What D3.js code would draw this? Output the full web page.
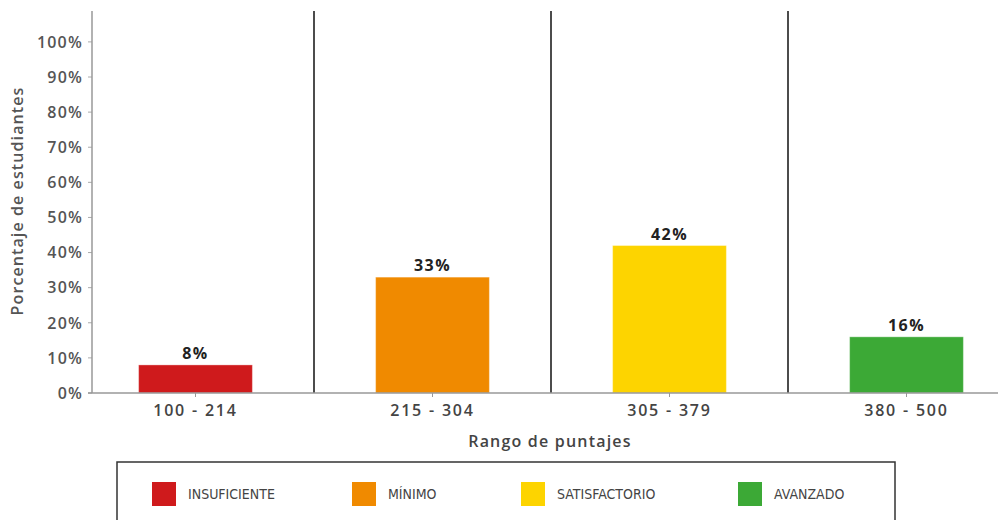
<!DOCTYPE html>
<html><head><meta charset="utf-8">
<script src="https://cdn.jsdelivr.net/npm/d3@7"></script>
<style>body{margin:0;background:#fff}svg{display:block}</style>
</head><body>
<script>
const categories = ["100 - 214", "215 - 304", "305 - 379", "380 - 500"];
const values = [8, 33, 42, 16];
const levels = ["INSUFICIENTE", "MÍNIMO", "SATISFACTORIO", "AVANZADO"];
const colors = ["#CF1A1C", "#F08A00", "#FDD400", "#3CA936"];
const yTicks = [0, 10, 20, 30, 40, 50, 60, 70, 80, 90, 100];

const W = 998, H = 520;
const svg = d3.select("body").append("svg").attr("width", W).attr("height", H);
const font = "'Open Sans', 'DejaVu Sans', sans-serif";

const x = d3.scaleBand().domain(categories).range([77, 1025]).paddingInner(0.52).paddingOuter(0.26);
const xb = d3.scaleBand().domain(categories).range([77, 1025]);
const y = d3.scaleLinear().domain([0, 108.8]).range([393, 11]);
const axisLeft = 92;

// y tick labels
svg.append("g").selectAll("text").data(yTicks).join("text")
  .attr("x", 83).attr("y", d => y(d)).attr("dy", "0.36em")
  .attr("text-anchor", "end").attr("font-family", font).attr("font-weight", 600)
  .attr("font-size", 16).attr("letter-spacing", 1.2).attr("fill", "#555").text(d => d + "%");
// y tick marks
svg.append("g").selectAll("line").data(yTicks).join("line")
  .attr("x1", axisLeft - 4).attr("x2", axisLeft).attr("y1", d => y(d)).attr("y2", d => y(d))
  .attr("stroke", "#aaa").attr("stroke-width", 1);

// y axis line
svg.append("line").attr("x1", axisLeft).attr("x2", axisLeft).attr("y1", 11).attr("y2", 393)
  .attr("stroke", "#999").attr("stroke-width", 1.5);

// dividers
svg.append("g").selectAll("line").data(categories.slice(1)).join("line")
  .attr("x1", d => xb(d)).attr("x2", d => xb(d)).attr("y1", 11).attr("y2", 393)
  .attr("stroke", "#111").attr("stroke-width", 1.5);

// bars
svg.append("g").selectAll("rect").data(values).join("rect")
  .attr("x", (d, i) => x(categories[i])).attr("width", x.bandwidth())
  .attr("y", d => y(d)).attr("height", d => y(0) - y(d))
  .attr("fill", (d, i) => colors[i]).attr("stroke", "#fff").attr("stroke-opacity", 0.35).attr("stroke-width", 1);

// value labels
svg.append("g").selectAll("text").data(values).join("text")
  .attr("x", (d, i) => x(categories[i]) + x.bandwidth() / 2).attr("y", d => y(d) - 6)
  .attr("text-anchor", "middle").attr("font-family", font).attr("font-weight", 700)
  .attr("font-size", 16).attr("letter-spacing", 1.5).attr("fill", "#222").text(d => d + "%");

// x axis line
svg.append("line").attr("x1", axisLeft - 4).attr("x2", W).attr("y1", 393).attr("y2", 393)
  .attr("stroke", "#999").attr("stroke-width", 1.5);

// x ticks
svg.append("g").selectAll("line").data(categories).join("line")
  .attr("x1", d => xb(d) + xb.bandwidth() / 2).attr("x2", d => xb(d) + xb.bandwidth() / 2)
  .attr("y1", 393).attr("y2", 397).attr("stroke", "#999");

svg.append("g").selectAll("text").data(categories).join("text")
  .attr("x", d => xb(d) + xb.bandwidth() / 2).attr("y", 416)
  .attr("text-anchor", "middle").attr("font-family", font).attr("font-weight", 600)
  .attr("font-size", 16).attr("letter-spacing", 1.8).attr("fill", "#444").text(d => d);

// axis titles
svg.append("text").attr("x", 550).attr("y", 447).attr("text-anchor", "middle")
  .attr("font-family", font).attr("font-weight", 600).attr("font-size", 16).attr("letter-spacing", 1.2)
  .attr("fill", "#444").text("Rango de puntajes");
svg.append("text").attr("transform", "translate(23,201) rotate(-90)").attr("text-anchor", "middle")
  .attr("font-family", font).attr("font-weight", 600).attr("font-size", 16).attr("letter-spacing", 1.1)
  .attr("fill", "#555").text("Porcentaje de estudiantes");

// legend
svg.append("rect").attr("x", 117).attr("y", 462).attr("width", 778).attr("height", 70)
  .attr("fill", "none").attr("stroke", "#333").attr("stroke-width", 1.5);
const legX = [152, 352, 521, 738];
const lg = svg.append("g").selectAll("g").data(levels).join("g")
  .attr("transform", (d, i) => `translate(${legX[i]},482)`);
lg.append("rect").attr("width", 24).attr("height", 24).attr("fill", (d, i) => colors[i]);
lg.append("text").attr("x", 36).attr("y", 12).attr("dy", "0.36em")
  .attr("font-family", "'Liberation Sans Narrow', 'DejaVu Sans Condensed', sans-serif")
  .attr("font-size", 14).attr("fill", "#444").text(d => d);
</script>
</body></html>
